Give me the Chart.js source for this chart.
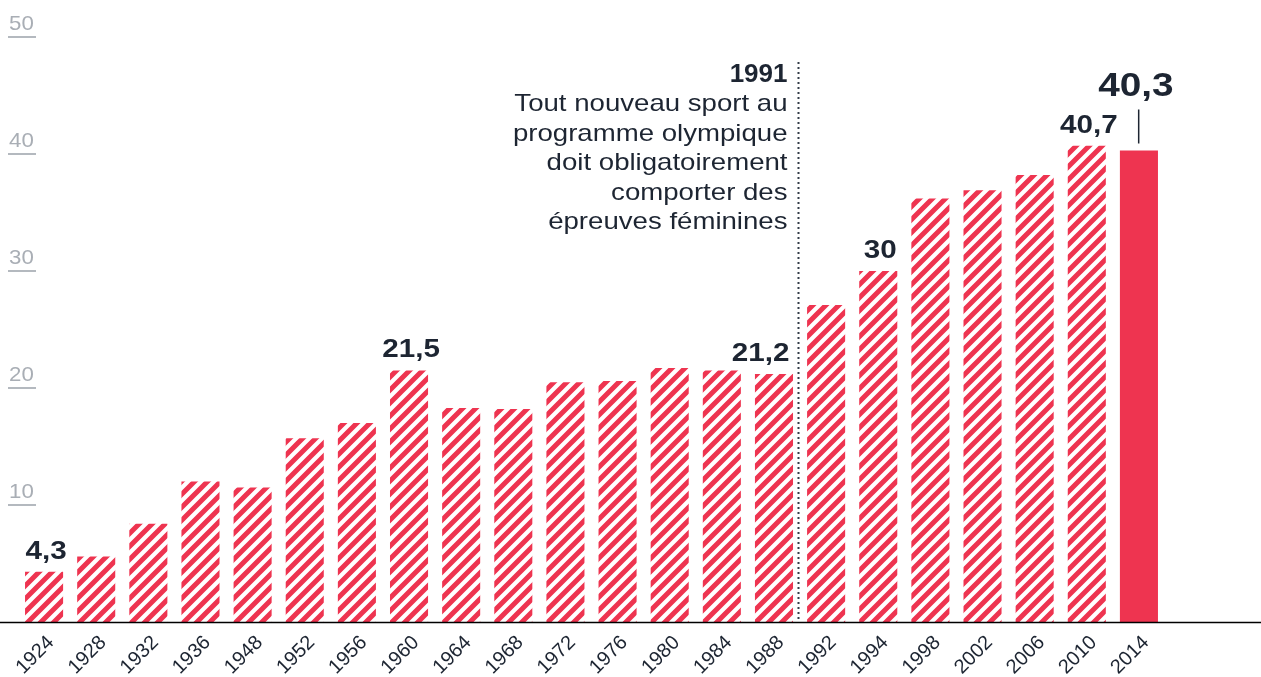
<!DOCTYPE html>
<html>
<head>
<meta charset="utf-8">
<script src="https://cdn.jsdelivr.net/npm/chart.js@4.4.0/dist/chart.umd.min.js"></script>
<style>
  html, body { margin: 0; padding: 0; background: #fff; overflow: hidden; }
</style>
</head>
<body>
<canvas id="chart" width="1261" height="677"></canvas>
<script>
// share of women among athletes, winter games
const years = ['1924', '1928', '1932', '1936', '1948', '1952', '1956', '1960', '1964', '1968', '1972',
  '1976', '1980', '1984', '1988', '1992', '1994', '1998', '2002', '2006', '2010', '2014'];
const shares = [4.3, 5.6, 8.4, 12.0, 11.5, 15.7, 17.0, 21.5, 18.3, 18.2, 20.5,
  20.6, 21.7, 21.5, 21.2, 27.1, 30, 36.2, 36.9, 38.2, 40.7, 40.3];
const valueLabels = ['4,3', '', '', '', '', '', '', '21,5', '', '', '',
  '', '', '', '21,2', '', '30', '', '', '', '40,7', '40,3'];
const yTicks = [10, 20, 30, 40, 50];
const noteTitle = '1991';
const noteLines = ['Tout nouveau sport au', 'programme olympique', 'doit obligatoirement',
  'comporter des', 'épreuves féminines'];

const red = '#ee3450';
const dark = '#1d2532';
const font = '"Liberation Sans", Arial, Helvetica, sans-serif';

function stripes(color) {
  const s = 13;
  const c = document.createElement('canvas');
  c.width = s; c.height = s;
  const g = c.getContext('2d');
  g.strokeStyle = color;
  g.lineWidth = 5;
  g.beginPath();
  for (const k of [0, s, 2 * s]) {
    g.moveTo(-s, k + s);
    g.lineTo(k + s, -s);
  }
  g.stroke();
  return g.createPattern(c, 'repeat');
}

// text a bit wider than Liberation Sans, like the original face
function wideText(ctx, t, x, y, sx) {
  ctx.save();
  ctx.translate(x, y);
  ctx.scale(sx, 1);
  ctx.fillText(t, 0, 0);
  ctx.restore();
}

const hatch = stripes(red);
const last = years.length - 1;
const markerAfter = 14; // the 1991 line sits between 1988 and 1992

const overlay = {
  id: 'overlay',
  afterDraw(chart) {
    const ctx = chart.ctx;
    const y = chart.scales.y;
    const x = chart.scales.x;
    const area = chart.chartArea;
    const bars = chart.getDatasetMeta(0).data;
    const px = Math.round((x.getPixelForValue(markerAfter) + x.getPixelForValue(markerAfter + 1)) / 2) - 1.5;
    ctx.save();

    // y ticks : number over a short rule
    ctx.font = '21px ' + font;
    ctx.textAlign = 'left';
    ctx.textBaseline = 'alphabetic';
    for (const v of yTicks) {
      const py = y.getPixelForValue(v);
      ctx.fillStyle = '#b4b9bf';
      ctx.fillRect(8, py - 1, 28, 2);
      ctx.fillStyle = '#a9aeb5';
      wideText(ctx, String(v), 9, py - 7, 1.06);
    }

    // baseline
    ctx.strokeStyle = '#000';
    ctx.lineWidth = 1.5;
    ctx.beginPath();
    ctx.moveTo(0, area.bottom + 0.5);
    ctx.lineTo(chart.width, area.bottom + 0.5);
    ctx.stroke();

    // value labels
    ctx.fillStyle = dark;
    ctx.textAlign = 'center';
    valueLabels.forEach((t, i) => {
      if (!t) return;
      const b = bars[i];
      if (i === last) {
        ctx.font = 'bold 34px ' + font;
        wideText(ctx, t, b.x - 3, b.y - 54, 1.14);
        ctx.fillRect(b.x - 1, b.y - 41, 1.5, 34);
      } else {
        ctx.font = 'bold 26px ' + font;
        const w = ctx.measureText(t).width * 1.14;
        let cx = b.x + 2;
        if (i === markerAfter) cx = Math.min(cx, px - 9 - w / 2);
        wideText(ctx, t, cx, b.y - 13, 1.14);
      }
    });

    // 1991 marker
    ctx.strokeStyle = '#333c48';
    ctx.lineWidth = 2;
    ctx.setLineDash([2, 3]);
    ctx.beginPath();
    ctx.moveTo(px, 62);
    ctx.lineTo(px, area.bottom);
    ctx.stroke();
    ctx.setLineDash([]);

    ctx.textAlign = 'right';
    ctx.fillStyle = dark;
    ctx.font = 'bold 26px ' + font;
    ctx.fillText(noteTitle, px - 11, 82);
    ctx.font = '24px ' + font;
    noteLines.forEach((t, i) => wideText(ctx, t, px - 11, 111 + i * 29.5, 1.15));

    ctx.restore();
  }
};

new Chart(document.getElementById('chart'), {
  type: 'bar',
  data: {
    labels: years,
    datasets: [{
      data: shares,
      backgroundColor: years.map((_, i) => i === last ? red : hatch),
      barPercentage: 0.73,
      categoryPercentage: 1
    }]
  },
  options: {
    responsive: false,
    animation: false,
    layout: { padding: { left: 18, right: 96, top: 37, bottom: 0 } },
    plugins: { legend: { display: false }, tooltip: { enabled: false } },
    scales: {
      x: {
        grid: { display: false },
        border: { display: false },
        ticks: {
          minRotation: 45,
          maxRotation: 45,
          autoSkip: false,
          padding: 1,
          labelOffset: 7,
          color: dark,
          font: { size: 20, family: font }
        },
        afterFit(s) { s.height = 55; }
      },
      y: { display: false, min: 0, max: 50 }
    }
  },
  plugins: [overlay]
});
</script>
</body>
</html>
